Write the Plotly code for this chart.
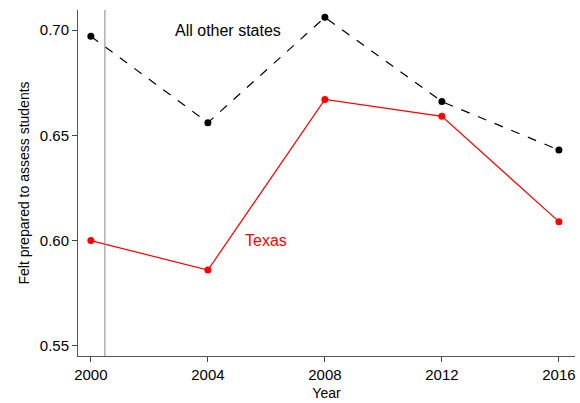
import plotly.graph_objects as go

years = [2000, 2004, 2008, 2012, 2016]
other_states = [0.697, 0.656, 0.706, 0.666, 0.643]
texas = [0.600, 0.586, 0.667, 0.659, 0.609]
y_ticks = [0.55, 0.60, 0.65, 0.70]

fig = go.Figure()

fig.add_trace(
    go.Scatter(
        x=years,
        y=other_states,
        mode="lines+markers",
        line=dict(color="black", width=1.2, dash="dash"),
        marker=dict(color="black", size=7),
        showlegend=False,
        cliponaxis=False,
    )
)
fig.add_trace(
    go.Scatter(
        x=years,
        y=texas,
        mode="lines+markers",
        line=dict(color="red", width=1.2),
        marker=dict(color="red", size=7),
        showlegend=False,
        cliponaxis=False,
    )
)

# reference line just after 2000
fig.add_vline(x=2000.48, line=dict(color="#888888", width=1))

fig.add_annotation(
    x=2004.7, y=0.70, text="All other states", showarrow=False,
    font=dict(size=16, color="black"),
)
fig.add_annotation(
    x=2006.0, y=0.600, text="Texas", showarrow=False,
    font=dict(size=16, color="red"),
)

fig.update_xaxes(
    range=[1999.56, 2016.55],
    tickvals=years,
    ticks="outside",
    ticklen=5,
    tickfont=dict(size=15),
    showgrid=False,
    zeroline=False,
    showline=True,
    linecolor="#555555",
    automargin=False,
    title=dict(text="Year", standoff=6, font=dict(size=14)),
)
fig.update_yaxes(
    range=[0.5452, 0.7095],
    tickvals=y_ticks,
    tickformat=".2f",
    ticks="outside",
    ticklen=5,
    tickfont=dict(size=15),
    showgrid=False,
    zeroline=False,
    showline=True,
    linecolor="#555555",
    automargin=False,
    title=dict(text="Felt prepared to assess students", standoff=6, font=dict(size=14)),
)
fig.update_layout(
    width=580,
    height=403,
    margin=dict(l=78, r=5, t=10, b=47),
    plot_bgcolor="white",
    paper_bgcolor="white",
    font=dict(family="Liberation Sans, Arial, sans-serif", size=13, color="black"),
)

fig.write_html(
    "out.html",
    config={"displayModeBar": False},
    post_script="document.body.style.margin='0';",
)
